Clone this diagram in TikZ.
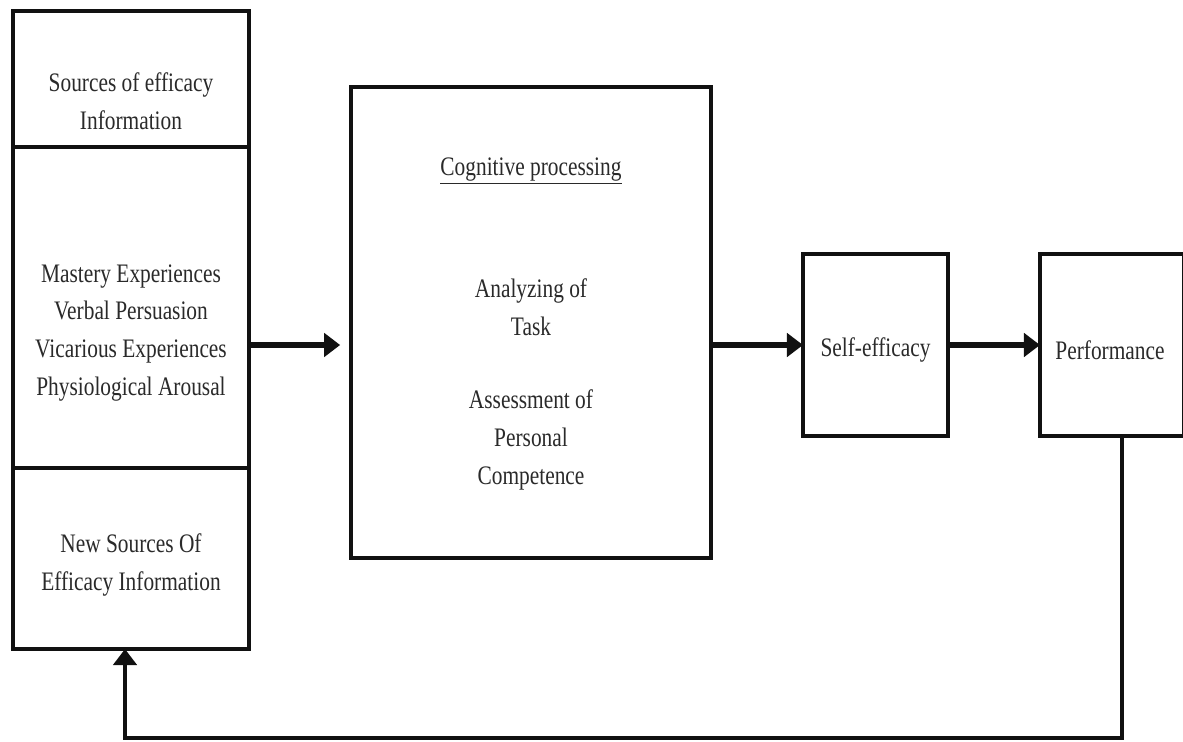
\documentclass[tikz,border=0pt]{standalone}
\usepackage{fontspec}
\setmainfont{Liberation Serif}[FakeStretch=0.8]
\usetikzlibrary{arrows.meta, positioning, calc}
\definecolor{linedark}{HTML}{111111}
\definecolor{textgrey}{HTML}{2A2A2A}

\begin{document}
\begin{tikzpicture}[
    x=0.025cm, y=-0.025cm,
    >={Triangle[length=0.4cm, width=0.58cm]},
    box/.style={draw=linedark, line width=2.6pt, inner sep=0pt, outer sep=0pt, fill=white},
    txt/.style={text=textgrey, align=center, inner sep=0pt, font=\fontsize{19}{27}\selectfont},
    flow/.style={->, line width=4pt, draw=linedark},
    back/.style={->, line width=3pt, draw=linedark}
]
\useasboundingbox (0,0) rectangle (1183,742);

% --- 1. SOURCES COLUMN ---
\node[box, minimum width=5.9cm, minimum height=3.4cm] (srcinfo) at (131, 79) {};
\node[box, minimum width=5.9cm, minimum height=8.025cm] (sources) at (131, 307.5) {};
\node[box, minimum width=5.9cm, minimum height=4.525cm] (newsrc) at (131, 558.5) {};

\node[txt] (srcinfoT) at (131, 101) {Sources of efficacy\\Information};
\node[txt] (sourcesT) at (131, 333) {Mastery Experiences\\Verbal Persuasion\\Vicarious Experiences\\Physiological Arousal};
\node[txt] (newsrcT) at (131, 565) {New Sources Of\\Efficacy Information};

% --- 2. COGNITIVE PROCESSING ---
\node[box, minimum width=9cm, minimum height=11.775cm] (cog) at (531, 322.5) {};
\node[txt] (cogT) at (531, 171) {\underline{Cognitive processing}};
\node[txt] (taskT) at (531, 307) {Analyzing of\\Task};
\node[txt] (assessT) at (531, 440) {Assessment of\\Personal\\Competence};

% --- 3. SELF-EFFICACY AND PERFORMANCE ---
\node[box, minimum width=3.625cm, minimum height=4.55cm] (selfeff) at (875.5, 345) {};
\node[txt] (selfeffT) at (875.5, 350) {Self-efficacy};
\node[box, minimum width=3.6cm, minimum height=4.55cm] (perf) at (1112, 345) {};
\node[txt] (perfT) at (1110, 350) {Performance};

% --- 4. ARROWS ---
\draw[flow, shorten >=0.27cm] (sources.east |- selfeff.west) -- (cog.west |- selfeff.west);
\draw[flow] (cog.east |- selfeff.west) -- (selfeff.west);
\draw[flow] (selfeff.east) -- (perf.west);

% feedback loop
\coordinate (fbturn) at (1122, 738);
\coordinate (fbend) at (125, 738);
\draw[back] (perf.south -| fbturn) -- (fbturn) -- (fbend) -- (fbend |- newsrc.south);

\end{tikzpicture}
\end{document}
